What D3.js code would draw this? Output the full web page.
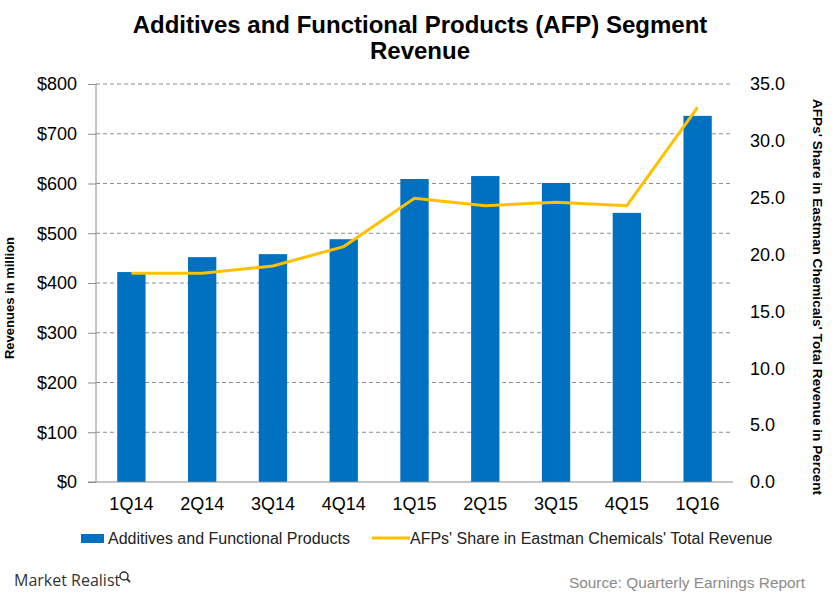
<!DOCTYPE html>
<html><head><meta charset="utf-8">
<script src="https://cdn.jsdelivr.net/npm/d3@7"></script>
<style>body{margin:0;background:#fff}svg{display:block;font-family:Arial,"Liberation Sans",sans-serif}</style>
</head><body>
<svg id="c" width="840" height="600"></svg>
<script>
const categories = ["1Q14","2Q14","3Q14","4Q14","1Q15","2Q15","3Q15","4Q15","1Q16"];
const revenue = [422, 452, 458, 488, 609, 615, 601, 541, 736];
const share = [18.35, 18.35, 19.0, 20.7, 24.95, 24.3, 24.6, 24.3, 32.95];
const leftTicks = [0,100,200,300,400,500,600,700,800];
const rightTicks = [0,5,10,15,20,25,30,35];

const svg = d3.select("#c");
const L = 96, R = 733, T = 84, B = 482;
const x = d3.scaleBand().domain(categories).range([L, R]).paddingInner(0.6).paddingOuter(0.3);
const xc = d => x(d) + x.bandwidth()/2;
const y = d3.scaleLinear().domain([0,800]).range([B,T]);
const y2 = d3.scaleLinear().domain([0,35]).range([B,T]);
const FF = "Arial, 'Liberation Sans', sans-serif";

// gridlines
svg.append("g").selectAll("line").data(leftTicks.slice(1)).join("line")
  .attr("x1", L).attr("x2", R).attr("y1", d=>y(d)).attr("y2", d=>y(d))
  .attr("stroke","#8c8c8c").attr("stroke-width",1).attr("stroke-dasharray","4,3");

// bars
svg.append("g").selectAll("rect").data(revenue).join("rect")
  .attr("x",(d,i)=>x(categories[i])).attr("width",x.bandwidth())
  .attr("y",d=>y(d)).attr("height",d=>B-y(d)).attr("fill","#0070C0");

// left axis
const la = svg.append("g").attr("transform",`translate(${L},0)`)
  .call(d3.axisLeft(y).tickValues(leftTicks).tickSize(8).tickPadding(11).tickFormat(d=>"$"+d));
la.select(".domain").attr("stroke","#8c8c8c").attr("d",`M0,${T}V${B}`);
la.selectAll(".tick line").attr("stroke","#8c8c8c");
la.selectAll("text").attr("font-size","18px").attr("fill","#000").attr("font-family",FF);

// bottom axis
const ba = svg.append("g").attr("transform",`translate(0,${B})`)
  .call(d3.axisBottom(x).tickSize(0).tickPadding(15));
ba.select(".domain").attr("stroke","#8c8c8c").attr("d",`M88,0H${R}`);
ba.selectAll("text").attr("font-size","18px").attr("fill","#000").attr("font-family",FF);

// right axis
const ra = svg.append("g").attr("transform",`translate(${R},0)`)
  .call(d3.axisRight(y2).tickValues(rightTicks).tickSize(0).tickPadding(17).tickFormat(d3.format(".1f")));
ra.select(".domain").remove();
ra.selectAll("text").attr("font-size","18px").attr("fill","#000").attr("font-family",FF);

// line
svg.append("path").datum(share)
  .attr("d", d3.line().x((d,i)=>xc(categories[i])).y(d=>y2(d)))
  .attr("fill","none").attr("stroke","#FFC000").attr("stroke-width",3);

// titles
svg.append("text").attr("x",420).attr("y",33).attr("text-anchor","middle")
  .attr("font-size","24px").attr("font-weight","bold").text("Additives and Functional Products (AFP) Segment");
svg.append("text").attr("x",420).attr("y",59).attr("text-anchor","middle")
  .attr("font-size","24px").attr("font-weight","bold").text("Revenue");

svg.append("text").attr("transform","translate(14,298) rotate(-90)").attr("text-anchor","middle")
  .attr("font-size","13px").attr("font-weight","bold").text("Revenues in million");
svg.append("text").attr("transform","translate(813,297) rotate(90)").attr("text-anchor","middle")
  .attr("font-size","13.6px").attr("font-weight","bold").text("AFPs' Share in Eastman Chemicals' Total Revenue in Percent");

// legend
svg.append("rect").attr("x",81).attr("y",534).attr("width",23).attr("height",9).attr("fill","#0070C0");
svg.append("text").attr("x",108).attr("y",544).attr("font-size","16px").attr("fill","#222").text("Additives and Functional Products");
svg.append("line").attr("x1",372).attr("x2",410).attr("y1",538).attr("y2",538).attr("stroke","#FFC000").attr("stroke-width",3);
svg.append("text").attr("x",410).attr("y",544).attr("font-size","16px").attr("fill","#222").text("AFPs' Share in Eastman Chemicals' Total Revenue");

// source & logo
svg.append("text").attr("x",805).attr("y",588).attr("text-anchor","end").attr("font-size","15.4px").attr("fill","#8a8a8a").text("Source: Quarterly Earnings Report");
svg.append("text").attr("x",14).attr("y",586).attr("font-size","16px").attr("fill","#333").attr("font-family","'Open Sans', sans-serif").text("Market Realist");
const lg = svg.append("g").attr("transform","translate(124,576)");
lg.append("circle").attr("cx",0).attr("cy",0).attr("r",4).attr("fill","none").attr("stroke","#333").attr("stroke-width",1.5);
lg.append("line").attr("x1",3).attr("y1",3).attr("x2",6).attr("y2",6).attr("stroke","#333").attr("stroke-width",1.8);
</script>
</body></html>
